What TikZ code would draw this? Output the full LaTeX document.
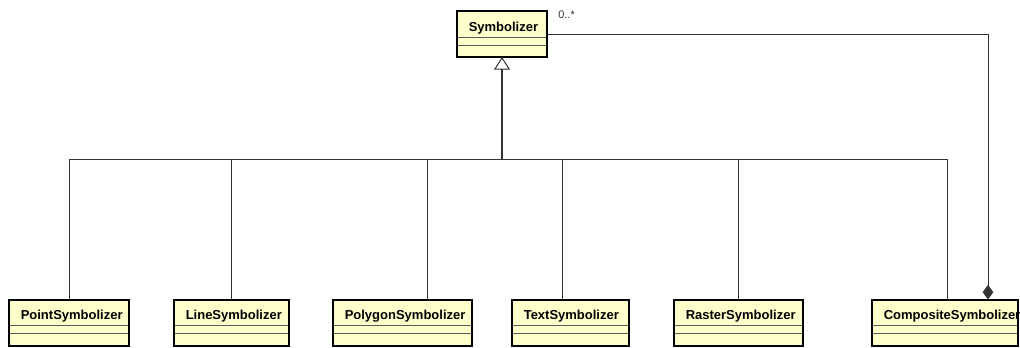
\documentclass[tikz,border=0pt]{standalone}
\usepackage{fontspec}
\setmainfont{Liberation Sans}
\usetikzlibrary{arrows.meta,calc}

\definecolor{classfill}{RGB}{255,255,204}
\definecolor{linegray}{RGB}{51,51,51}
\definecolor{divgray}{RGB}{90,90,90}

\tikzset{
  clsbody/.style={fill=classfill, draw=none, outer sep=0pt, inner sep=0pt,
                  minimum height=34.5pt, anchor=north west},
  clsborder/.style={draw=black, line width=1.5pt},
  clsname/.style={font=\bfseries\fontsize{9.75pt}{11pt}\selectfont, inner sep=0pt},
  divider/.style={draw=divgray, line width=0.75pt},
  genline/.style={draw=linegray, line width=1.1pt,
                  -{Triangle[open, length=9.5pt, width=12pt, line width=0.75pt]}},
  subline/.style={draw=linegray, line width=0.75pt},
  compline/.style={draw=linegray, line width=0.75pt,
                   -{Diamond[length=11pt, width=8pt]}},
  mult/.style={font=\fontsize{8.25pt}{10pt}\selectfont, text=linegray, inner sep=0pt}
}

% #1 node name, #2 left x, #3 top y, #4 width, #5 class name
\newcommand\umlclass[5]{%
  \node[clsbody, minimum width=#4*0.75pt] (#1) at (#2,#3) {};
  \draw[divider] ($(#1.north west)+(0,26)$) -- ($(#1.north east)+(0,26)$);
  \draw[divider] ($(#1.north west)+(0,34)$) -- ($(#1.north east)+(0,34)$);
  \draw[clsborder] (#1.north west) rectangle (#1.south east);
  \node[clsname, anchor=base west] (#1-name) at ($(#1.north west)+(11.5,20)$) {#5};
}

\begin{document}
\begin{tikzpicture}[x=0.75pt, y=-0.75pt]
\useasboundingbox (0,0) rectangle (1020,347);

% classes
\umlclass{sym}{457}{11}{90}{Symbolizer}
\umlclass{pt}{9}{299.5}{120}{PointSymbolizer}
\umlclass{ln}{174}{299.5}{115}{LineSymbolizer}
\umlclass{poly}{333}{299.5}{139}{PolygonSymbolizer}
\umlclass{txt}{512}{299.5}{117}{TextSymbolizer}
\umlclass{rast}{674}{299.5}{129}{RasterSymbolizer}
\umlclass{comp}{872}{299.5}{146}{CompositeSymbolizer}

% generalization tree
\coordinate (bus) at (502,159);
\coordinate (polyin) at ($(poly.north west)+(94,0)$);
\coordinate (txtin) at ($(txt.north west)+(50,0)$);
\coordinate (compin) at ($(comp.north west)+(75,0)$);
\draw[subline] (pt.north) |- (bus);
\draw[subline] (ln.north) |- (bus);
\draw[subline] (polyin) |- (bus);
\draw[subline] (txtin) |- (bus);
\draw[subline] (rast.north) |- (bus);
\draw[subline] (compin) |- (bus);
\draw[genline] (bus) -- (sym.south);

% composition
\coordinate (compagg) at ($(comp.north west)+(116,0)$);
\draw[compline] (sym.east) -| (compagg);
\node[mult, anchor=base west] (multlbl) at ($(sym.north east)+(11,7)$) {0..*};
\end{tikzpicture}
\end{document}
